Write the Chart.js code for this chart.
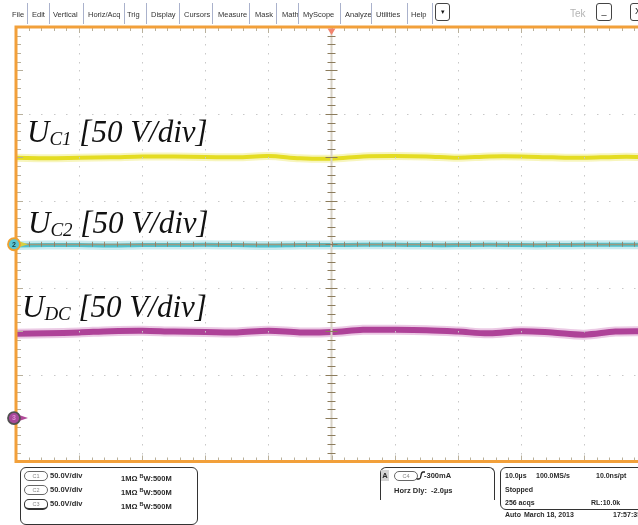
<!DOCTYPE html>
<html>
<head>
<meta charset="utf-8">
<script src="https://cdn.jsdelivr.net/npm/chart.js@4.4.1/dist/chart.umd.min.js"></script>
<style>
  html, body { margin: 0; padding: 0; width: 638px; height: 525px; overflow: hidden; background: #fff; }
  body { position: relative; font-family: "Liberation Sans", Arial, sans-serif; }
  #wrap { position: absolute; left: 0; top: 0; width: 660px; height: 525px; }
  .abs { position: absolute; white-space: nowrap; }
  .mi { position: absolute; top: 10px; font-size: 7.5px; line-height: 10px; color: #333; }
  .sep { position: absolute; top: 3px; width: 1px; height: 21px; background: #aab2cc; }
  .btn { position: absolute; top: 3px; height: 16px; border: 1px solid #444; border-radius: 3px; font-size: 9px; line-height: 15px; text-align: center; color: #111; }
  .lbl { position: absolute; font-family: "Liberation Serif", "Times New Roman", serif; font-style: italic; font-size: 31px; line-height: 30px; color: #111; white-space: nowrap; }
  .lbl sub { font-size: 19px; vertical-align: -3px; line-height: 0; }
  .box { position: absolute; border: 1px solid #333; border-radius: 6px; }
  .st { position: absolute; font-size: 7.5px; line-height: 10px; font-weight: bold; color: #2a2a2a; white-space: nowrap; }
  .st.sm { font-size: 7px; }
  .pill { position: absolute; width: 22px; height: 8px; border: 1px solid #666; border-radius: 5px; font-size: 5.5px; line-height: 8px; text-align: center; color: #888; font-weight: normal; }
</style>
</head>
<body>
<div id="wrap"><canvas id="scope" width="660" height="525"></canvas></div>

<!-- menu bar -->
<div class="mi" style="left:12px">File</div>
<div class="sep" style="left:27px"></div>
<div class="mi" style="left:32px">Edit</div>
<div class="sep" style="left:49px"></div>
<div class="mi" style="left:53px">Vertical</div>
<div class="sep" style="left:83px"></div>
<div class="mi" style="left:88px">Horiz/Acq</div>
<div class="sep" style="left:124px"></div>
<div class="mi" style="left:127px">Trig</div>
<div class="sep" style="left:146px"></div>
<div class="mi" style="left:151px">Display</div>
<div class="sep" style="left:179px"></div>
<div class="mi" style="left:184px">Cursors</div>
<div class="sep" style="left:212px"></div>
<div class="mi" style="left:218px">Measure</div>
<div class="sep" style="left:249px"></div>
<div class="mi" style="left:255px">Mask</div>
<div class="sep" style="left:276px"></div>
<div class="mi" style="left:282px">Math</div>
<div class="sep" style="left:298px"></div>
<div class="mi" style="left:303px">MyScope</div>
<div class="sep" style="left:340px"></div>
<div class="mi" style="left:345px">Analyze</div>
<div class="sep" style="left:371px"></div>
<div class="mi" style="left:376px">Utilities</div>
<div class="sep" style="left:407px"></div>
<div class="mi" style="left:411px">Help</div>
<div class="sep" style="left:432px"></div>
<div class="btn" style="left:435px;width:13px;font-size:7px">&#9662;</div>
<div class="abs" style="left:570px;top:8px;font-size:10px;line-height:12px;color:#b4b4b4">Tek</div>
<div class="btn" style="left:596px;width:14px">_</div>
<div class="btn" style="left:630px;width:14px">X</div>

<!-- trace labels -->
<div class="lbl" style="left:27px;top:117px">U<sub>C1</sub> [50 V/div]</div>
<div class="lbl" style="left:28px;top:208px">U<sub>C2</sub> [50 V/div]</div>
<div class="lbl" style="left:22px;top:292px">U<sub>DC</sub> [50 V/div]</div>

<!-- status area -->
<div class="box" style="left:20px;top:467px;width:176px;height:56px"></div>
<div class="pill" style="left:24px;top:471px">C1</div>
<div class="st" style="left:50px;top:471px">50.0V/div</div>
<div class="st" style="left:121px;top:471px">1M&Omega; <span style="font-size:5.5px;vertical-align:3px">B</span>W:500M</div>
<div class="pill" style="left:24px;top:485px">C2</div>
<div class="st" style="left:50px;top:485px">50.0V/div</div>
<div class="st" style="left:121px;top:485px">1M&Omega; <span style="font-size:5.5px;vertical-align:3px">B</span>W:500M</div>
<div class="pill" style="left:24px;top:499px;border-color:#333;border-bottom-width:2px">C3</div>
<div class="st" style="left:50px;top:499px">50.0V/div</div>
<div class="st" style="left:121px;top:499px">1M&Omega; <span style="font-size:5.5px;vertical-align:3px">B</span>W:500M</div>

<div class="box" style="left:380px;top:467px;width:113px;height:32px;border-bottom:none;border-bottom-left-radius:0;border-bottom-right-radius:0"></div>
<div class="st" style="left:381px;top:470px;width:8px;height:11px;background:#d4d4d4;text-align:center;line-height:11px">A</div>
<div class="pill" style="left:394px;top:471px">C4</div>
<svg class="abs" style="left:416px;top:471px" width="9" height="9"><path d="M0.5 8 H3 Q4.5 8 5 4.5 Q5.5 1 7 1 H9" stroke="#222" stroke-width="1.3" fill="none"/></svg>
<div class="st" style="left:424px;top:471px">-300mA</div>
<div class="st" style="left:394px;top:486px">Horz Dly:</div>
<div class="st" style="left:431px;top:486px">-2.0&micro;s</div>

<div class="box" style="left:500px;top:467px;width:160px;height:41px"></div>
<div class="st sm" style="left:505px;top:471px">10.0&micro;s</div>
<div class="st sm" style="left:536px;top:471px">100.0MS/s</div>
<div class="st sm" style="left:596px;top:471px">10.0ns/pt</div>
<div class="st sm" style="left:505px;top:485px">Stopped</div>
<div class="st sm" style="left:505px;top:498px">256 acqs</div>
<div class="st sm" style="left:591px;top:498px">RL:10.0k</div>
<div class="st sm" style="left:505px;top:510px">Auto</div>
<div class="st sm" style="left:524px;top:510px">March 18, 2013</div>
<div class="st sm" style="left:613px;top:510px">17:57:35</div>

<script>
// horizontal position in divisions (10 div across, 5 = trigger / centre)
const timeDiv = [0, 0.5, 1, 1.5, 2, 2.5, 3, 3.5, 4, 4.5, 5, 5.5, 6, 6.5, 7, 7.5, 8, 8.5, 9, 9.5, 10];

// trace levels in divisions above screen centre
const uC1 = [1.99, 1.98, 1.99, 2.00, 2.02, 2.02, 2.01, 2.00, 2.03, 1.98, 1.97, 2.02, 2.03, 2.02, 1.99, 2.02, 2.02, 2.00, 1.99, 2.01, 2.01];
const uC2 = [-0.03, -0.02, -0.02, -0.03, -0.02, -0.02, -0.01, -0.02, -0.03, -0.02, -0.02, -0.01, -0.01, -0.02, -0.02, -0.01, -0.02, -0.02, -0.01, -0.01, -0.01];
const uDC = [-2.06, -2.05, -2.03, -2.00, -1.99, -2.01, -2.02, -2.03, -1.99, -2.03, -2.02, -1.97, -1.97, -1.98, -2.01, -2.05, -2.00, -2.03, -2.08, -2.01, -2.00];

// channel ground markers on the left edge (divisions)
const markerLabels = ['2', '3'];
const markerLevels = [0, -4];

const toPoints = vals => timeDiv.map((t, i) => ({ x: t, y: vals[i] }));

function trace(vals, color, width, order) {
    return {
        data: toPoints(vals),
        borderColor: color,
        borderWidth: width,
        pointRadius: 0,
        showLine: true,
        tension: 0.35,
        order: order
    };
}

const graticule = {
    id: 'graticule',
    afterDatasetsDraw(chart) {
        const ctx = chart.ctx;
        const a = chart.chartArea;
        const xs = chart.scales.x, ys = chart.scales.y;
        ctx.save();

        // dotted grid
        ctx.fillStyle = '#c8c8c8';
        for (let i = 1; i < 10; i++) {
            if (i === 5) continue;
            const px = Math.round(xs.getPixelForValue(i));
            for (let k = 1; k < 50; k++) {
                const py = ys.getPixelForValue(-5 + k * 0.2);
                ctx.fillRect(px, Math.round(py), 1, 1.5);
            }
        }
        [3, 1, -1, -3].forEach(v => {
            const py = Math.round(ys.getPixelForValue(v));
            for (let k = 1; k < 50; k++) {
                const px = xs.getPixelForValue(k * 0.2);
                ctx.fillRect(Math.round(px), py, 1.5, 1);
            }
        });

        // centre cross
        const cx = xs.getPixelForValue(5);
        const cy = ys.getPixelForValue(0);
        ctx.fillStyle = '#d8d2c6';
        ctx.fillRect(cx - 1, a.top, 2, a.bottom - a.top);
        ctx.fillStyle = 'rgba(180,140,100,0.75)';
        ctx.fillRect(a.left, cy - 0.5, a.right - a.left, 1.5);
        ctx.fillStyle = '#8c7c5c';
        for (let k = 1; k < 50; k++) {
            const len = k % 5 === 0 ? 6 : 4;
            const py = ys.getPixelForValue(-5 + k * 0.2);
            ctx.fillRect(cx - len, Math.round(py), len * 2, 1);
        }
        ctx.fillStyle = 'rgba(150,120,90,0.8)';
        for (let k = 1; k < 50; k++) {
            const px = xs.getPixelForValue(k * 0.2);
            ctx.fillRect(Math.round(px), cy - 2.5, 1, 5);
        }

        // edge ticks
        ctx.fillStyle = '#b8b09c';
        for (let k = 1; k < 50; k++) {
            const len = k % 5 === 0 ? 5 : 3;
            const px = Math.round(xs.getPixelForValue(k * 0.2));
            ctx.fillRect(px, a.top + 1, 1, len);
            ctx.fillRect(px, a.bottom - 1 - len, 1, len);
            const py = Math.round(ys.getPixelForValue(-5 + k * 0.2));
            ctx.fillRect(a.left + 1, py, len + 1, 1);
        }

        // orange frame
        ctx.strokeStyle = '#f2a03a';
        ctx.lineWidth = 3;
        ctx.beginPath();
        ctx.moveTo(chart.width, a.top);
        ctx.lineTo(a.left, a.top);
        ctx.lineTo(a.left, a.bottom);
        ctx.lineTo(chart.width, a.bottom);
        ctx.stroke();

        // trigger position
        ctx.fillStyle = '#f2846e';
        ctx.beginPath();
        ctx.moveTo(cx - 4, a.top + 1.5);
        ctx.lineTo(cx + 4, a.top + 1.5);
        ctx.lineTo(cx, a.top + 8);
        ctx.closePath();
        ctx.fill();

        // channel markers
        const styles = [
            { fill: '#5cc6d2', ring: '#f0a030', text: '#173c44', arrow: '#d8d040' },
            { fill: '#a8489a', ring: '#505050', text: '#e090d4', arrow: '#b04898' }
        ];
        markerLevels.forEach((lvl, i) => {
            const py = ys.getPixelForValue(lvl);
            const st = styles[i];
            const mx = a.left - 2;
            ctx.fillStyle = st.arrow;
            ctx.beginPath();
            ctx.moveTo(mx + 5, py - 3);
            ctx.lineTo(mx + 14, py);
            ctx.lineTo(mx + 5, py + 3);
            ctx.closePath();
            ctx.fill();
            ctx.beginPath();
            ctx.arc(mx, py, 6, 0, Math.PI * 2);
            ctx.fillStyle = st.fill;
            ctx.fill();
            ctx.lineWidth = 1.8;
            ctx.strokeStyle = st.ring;
            ctx.stroke();
            ctx.fillStyle = st.text;
            ctx.font = 'bold 7px "Liberation Sans", Arial, sans-serif';
            ctx.textAlign = 'center';
            ctx.textBaseline = 'middle';
            ctx.fillText(markerLabels[i], mx, py + 0.5);
        });

        ctx.restore();
    }
};

new Chart(document.getElementById('scope'), {
    type: 'scatter',
    data: {
        datasets: [
            trace(uC1, '#e4dc22', 4, 1),
            trace(uC1, 'rgba(236,230,90,0.4)', 8, 2),
            trace(uC2, '#4ec2ce', 4, 1),
            trace(uC2, 'rgba(120,206,216,0.4)', 9, 2),
            trace(uDC, '#ae4298', 6, 1),
            trace(uDC, 'rgba(204,120,188,0.4)', 10, 2)
        ]
    },
    options: {
        responsive: false,
        animation: false,
        layout: { padding: { left: 16, right: 13, top: 27, bottom: 63.5 } },
        plugins: { legend: { display: false }, tooltip: { enabled: false } },
        scales: {
            x: { type: 'linear', min: 0, max: 10, display: false },
            y: { min: -5, max: 5, display: false }
        }
    },
    plugins: [graticule]
});
</script>
</body>
</html>
